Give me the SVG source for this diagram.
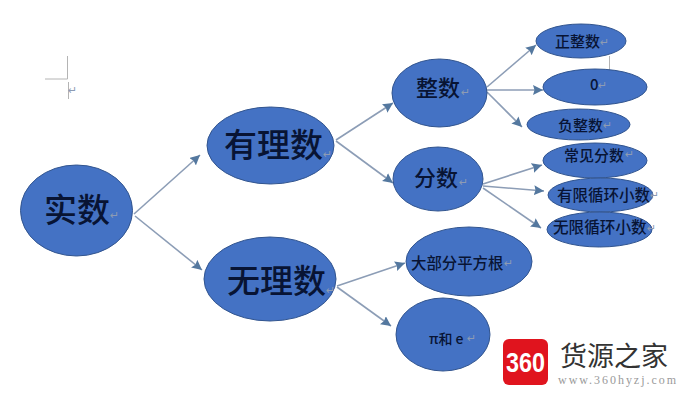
<svg xmlns="http://www.w3.org/2000/svg" width="682" height="415" viewBox="0 0 682 415">
<style>
.n{fill:#4472c4;stroke:#32558f;stroke-width:1}
.t{font-family:"Noto Sans CJK SC","Noto Sans",sans-serif;fill:#081434;font-weight:500}
.r{font-family:"DejaVu Sans",sans-serif;fill:#8d9bb3;font-size:11px}
.c{stroke:#8c9db6;stroke-width:1.600;fill:none;marker-end:url(#a)}
.m{stroke:#b4b4b4;stroke-width:1;fill:none}
</style>
<defs><marker id="a" markerUnits="userSpaceOnUse" markerWidth="11" markerHeight="11" refX="10" refY="5" orient="auto"><path d="M0 0L10 5L0 10L1.500 5Z" fill="#54789f"/></marker></defs>
<rect width="682" height="415" fill="#fff"/>
<g id="cursor"><path class="m" d="M67.500 56V79M45 79H67.500M68.500 82V99"/><text class="r" x="68" y="94" fill="#777">↵</text></g>
<g id="connectors">
<path class="c" d="M134 214L200 155"/>
<path class="c" d="M135 216L202 270"/>
<path class="c" d="M336 140L393 103"/>
<path class="c" d="M336 141L393 183"/>
<path class="c" d="M337 286L405 263"/>
<path class="c" d="M337 287L391 326"/>
<path class="c" d="M487 87L536 45"/>
<path class="c" d="M487 90L543 90"/>
<path class="c" d="M487 92L522 127"/>
<path class="c" d="M483 184L542 165"/>
<path class="c" d="M483 186L544 191"/>
<path class="c" d="M483 188L541 228"/>
<path class="m" d="M609.500 56V70"/>
</g>
<g id="n1"><ellipse class="n" cx="76.500" cy="210.500" rx="56" ry="45.500"/><text class="t" x="44" y="222" font-size="33">实数</text><text class="r" x="110" y="219">↵</text></g>
<g id="n2"><ellipse class="n" cx="270.500" cy="145.500" rx="63.500" ry="38.500"/><text class="t" x="224" y="157" font-size="33">有理数</text><text class="r" x="323" y="158">↵</text></g>
<g id="n3"><ellipse class="n" cx="270" cy="279" rx="66" ry="42"/><text class="t" x="227" y="293" font-size="33">无理数</text><text class="r" x="326" y="294">↵</text></g>
<g id="n4"><ellipse class="n" cx="439.500" cy="93" rx="47.500" ry="34"/><text class="t" x="416" y="96" font-size="22">整数</text><text class="r" x="461" y="96">↵</text></g>
<g id="n5"><ellipse class="n" cx="438" cy="179" rx="45" ry="32"/><text class="t" x="414" y="186" font-size="22">分数</text><text class="r" x="459" y="186">↵</text></g>
<g id="n6"><ellipse class="n" cx="581" cy="41" rx="45" ry="17"/><text class="t" x="555" y="47" font-size="15">正整数</text><text class="r" x="600" y="46">↵</text></g>
<g id="n7"><ellipse class="n" cx="595" cy="87" rx="52" ry="18"/><text class="t" x="590" y="90" font-size="15">0</text><text class="r" x="598" y="89">↵</text></g>
<g id="n8"><ellipse class="n" cx="578.500" cy="124.500" rx="51.500" ry="15.500"/><text class="t" x="558" y="131" font-size="15">负整数</text><text class="r" x="603" y="129">↵</text></g>
<g id="n9"><ellipse class="n" cx="595" cy="160.500" rx="52" ry="17.500"/><text class="t" x="564" y="161" font-size="15">常见分数</text><text class="r" x="625" y="158">↵</text></g>
<g id="n10"><ellipse class="n" cx="600.500" cy="195" rx="52.500" ry="17"/><text class="t" x="557" y="201" font-size="15.500">有限循环小数</text><text class="r" x="650" y="199">↵</text></g>
<g id="n11"><ellipse class="n" cx="599.500" cy="229.500" rx="52.500" ry="17.500"/><text class="t" x="553" y="233" font-size="15.600">无限循环小数</text><text class="r" x="647" y="232">↵</text></g>
<g id="n12"><ellipse class="n" cx="469" cy="261.500" rx="63" ry="34.500"/><text class="t" x="411" y="269" font-size="15.400">大部分平方根</text><text class="r" x="504" y="267">↵</text></g>
<g id="n13"><ellipse class="n" cx="443" cy="334.500" rx="47" ry="36.500"/><text class="t" x="429" y="344" font-size="14">π和 e</text><text class="r" x="467" y="342">↵</text></g>
<g id="logo">
<rect x="503" y="339" width="45" height="46" rx="6" fill="#e0141e"/>
<text x="525.500" y="372" text-anchor="middle" font-family="Liberation Sans,sans-serif" font-weight="700" font-size="27" fill="#fff" textLength="39" lengthAdjust="spacingAndGlyphs">360</text>
<text x="560" y="366" font-family="Noto Sans CJK SC,sans-serif" font-size="27" fill="#333">货源之家</text>
<text x="558" y="384" font-family="Liberation Serif,serif" font-size="12" fill="#9a9a9a" textLength="118">www.360hyzj.com</text>
</g>
</svg>
